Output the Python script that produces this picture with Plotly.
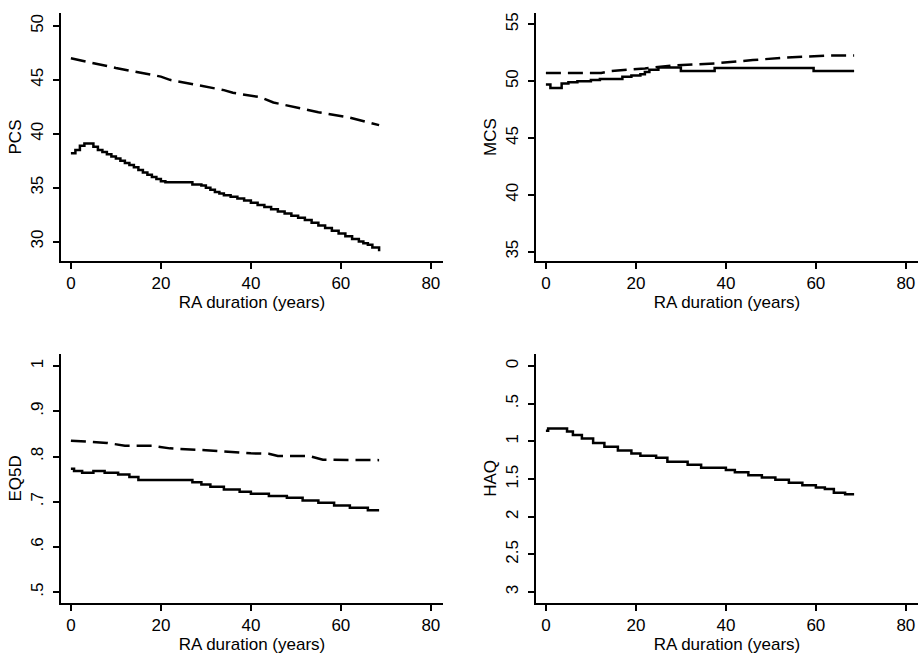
import plotly.graph_objects as go
from plotly.subplots import make_subplots

# PCS
pcs_dash_x = [0, 10, 20, 22, 34, 36, 42, 45, 55, 62, 68.5]
pcs_dash_y = [47.0, 46.1, 45.3, 45.0, 44.05, 43.8, 43.4, 42.9, 42.0, 41.5, 40.8]
pcs_solid_x = [0, 1, 2, 3, 4, 5, 6, 7, 8, 9, 10, 11, 12, 13, 14, 15, 16, 17, 18, 19,
               20, 21, 26, 27, 29, 30, 31, 32, 33, 34, 35.5, 37, 38.5, 40, 41.5, 43,
               44.5, 46, 47.5, 49, 50.5, 52, 53.5, 55, 56.5, 58, 59.5, 61, 62.5, 64,
               65, 66, 67, 68.5]
pcs_solid_y = [38.2, 38.5, 38.9, 39.1, 39.1, 38.8, 38.5, 38.3, 38.1, 37.9, 37.7, 37.5,
               37.3, 37.1, 36.9, 36.65, 36.4, 36.2, 36.0, 35.8, 35.6, 35.5, 35.5, 35.3,
               35.2, 35.0, 34.8, 34.6, 34.45, 34.3, 34.15, 34.0, 33.8, 33.6, 33.4,
               33.2, 33.0, 32.8, 32.6, 32.4, 32.2, 32.0, 31.75, 31.5, 31.25, 31.0,
               30.75, 30.5, 30.25, 30.0, 29.85, 29.7, 29.45, 29.1]

# MCS
mcs_dash_x = [0, 12.3, 14.6, 22, 28.6, 37.5, 46, 53.4, 63, 68.5]
mcs_dash_y = [50.73, 50.73, 50.9, 51.12, 51.4, 51.56, 51.86, 52.08, 52.26, 52.26]
mcs_solid_x = [0, 1, 3.5, 5, 7, 10, 12, 17, 19, 21, 22, 23, 25, 30, 37.5, 59.5, 68.5]
mcs_solid_y = [49.7, 49.4, 49.8, 49.9, 50.0, 50.1, 50.2, 50.4, 50.5, 50.6, 50.8, 51.0,
               51.2, 50.9, 51.15, 50.9, 50.9]

# EQ5D
eq_dash_x = [0, 8, 12, 18, 22, 30, 40, 44, 46, 53, 56, 68.5]
eq_dash_y = [0.835, 0.830, 0.824, 0.824, 0.818, 0.814, 0.807, 0.806, 0.801, 0.801,
             0.793, 0.792]
eq_solid_x = [0, 0.7, 2.5, 5, 7.5, 10.5, 13, 15, 27, 29, 31, 34, 37.5, 40, 44, 48,
              51.5, 55, 58.5, 62, 66, 68.5]
eq_solid_y = [0.773, 0.768, 0.764, 0.768, 0.764, 0.760, 0.755, 0.748, 0.743, 0.738,
              0.733, 0.727, 0.722, 0.718, 0.713, 0.709, 0.703, 0.698, 0.692, 0.687,
              0.681, 0.681]

# HAQ
haq_x = [0, 0.5, 4.7, 6, 8, 10.5, 13, 16, 19, 21, 24.5, 27, 31.5, 34.5, 40, 42, 45,
         48, 51, 54, 57, 60, 62, 64, 66.5, 68.5]
haq_y = [0.86, 0.83, 0.87, 0.915, 0.96, 1.02, 1.07, 1.12, 1.16, 1.19, 1.215, 1.27,
         1.31, 1.35, 1.38, 1.41, 1.45, 1.48, 1.51, 1.55, 1.58, 1.61, 1.63, 1.68, 1.70,
         1.70]

x_ticks = [0, 20, 40, 60, 80]
pcs_ticks = [30, 35, 40, 45, 50]
mcs_ticks = [35, 40, 45, 50, 55]
eq_ticks = [0.5, 0.6, 0.7, 0.8, 0.9, 1.0]
eq_labels = [".5", ".6", ".7", ".8", ".9", "1"]
haq_ticks = [0, 0.5, 1, 1.5, 2, 2.5, 3]
haq_labels = ["0", ".5", "1", "1.5", "2", "2.5", "3"]

FONT = "Liberation Sans, Arial, sans-serif"
solid = dict(color="black", width=2.5)
dashed = dict(color="black", width=2.5, dash="15px,7px")

fig = make_subplots(rows=2, cols=2)
fig.add_trace(go.Scatter(x=pcs_dash_x, y=pcs_dash_y, mode="lines", line=dashed), 1, 1)
fig.add_trace(go.Scatter(x=pcs_solid_x, y=pcs_solid_y, mode="lines", line=solid,
                         line_shape="hv"), 1, 1)
fig.add_trace(go.Scatter(x=mcs_dash_x, y=mcs_dash_y, mode="lines", line=dashed), 1, 2)
fig.add_trace(go.Scatter(x=mcs_solid_x, y=mcs_solid_y, mode="lines", line=solid,
                         line_shape="hv"), 1, 2)
fig.add_trace(go.Scatter(x=eq_dash_x, y=eq_dash_y, mode="lines", line=dashed), 2, 1)
fig.add_trace(go.Scatter(x=eq_solid_x, y=eq_solid_y, mode="lines", line=solid,
                         line_shape="hv"), 2, 1)
fig.add_trace(go.Scatter(x=haq_x, y=haq_y, mode="lines", line=solid,
                         line_shape="hv"), 2, 2)

W, H = 919, 654
left_dom = [61 / W, 443 / W]
right_dom = [536 / W, 918 / W]
top_dom = [1 - 261 / H, 1 - 13 / H]
bot_dom = [1 - 602.7 / H, 1 - 354 / H]

axis_common = dict(showline=True, linecolor="black", linewidth=2, ticks="outside",
                   ticklen=6, tickwidth=2, tickcolor="black", showgrid=False,
                   zeroline=False, automargin=False,
                   tickfont=dict(family=FONT, size=17, color="black"),
                   title_font=dict(family=FONT, size=17, color="black"))

xrange_ = [-2.2, 82.7]
for i, (dom, ydom) in enumerate([(left_dom, top_dom), (right_dom, top_dom),
                                 (left_dom, bot_dom), (right_dom, bot_dom)], start=1):
    xa = "xaxis" if i == 1 else f"xaxis{i}"
    fig.layout[xa].update(domain=dom, range=xrange_, tickvals=x_ticks,
                          title_text="RA duration (years)", title_standoff=2,
                          **axis_common)

fig.layout.yaxis.update(domain=top_dom, range=[28.2, 51.2], tickvals=pcs_ticks,
                        title_text="PCS", **axis_common)
fig.layout.yaxis2.update(domain=top_dom, range=[34.18, 56.0], tickvals=mcs_ticks,
                         title_text="MCS", **axis_common)
fig.layout.yaxis3.update(domain=bot_dom, range=[0.477, 1.0265], tickvals=eq_ticks,
                         ticktext=eq_labels, title_text="EQ5D", **axis_common)
fig.layout.yaxis4.update(domain=bot_dom, range=[3.14, -0.16], tickvals=haq_ticks,
                         ticktext=haq_labels, title_text="HAQ", **axis_common)
for ya in ["yaxis", "yaxis2", "yaxis3", "yaxis4"]:
    fig.layout[ya].update(tickangle=-90, ticklabelstandoff=3, title_standoff=2)

fig.update_layout(width=W, height=H, margin=dict(l=0, r=0, t=0, b=0),
                  plot_bgcolor="white", paper_bgcolor="white", showlegend=False,
                  font=dict(family=FONT, size=17, color="black"))

# the page body has a default 8px margin; remove it so the figure fills the window
fig.write_html("out.html", config={"displayModeBar": False},
               post_script="document.body.style.margin='0';")
